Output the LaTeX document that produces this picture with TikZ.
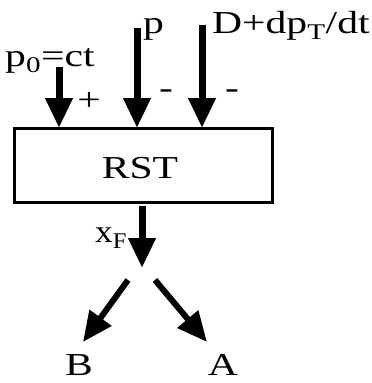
\documentclass[tikz,border=0pt]{standalone}
\usepackage{fontspec}
\usepackage{graphicx}
\setmainfont{Liberation Serif}
\usetikzlibrary{arrows.meta}
\newcommand{\wide}[1]{\scalebox{1.3}[1]{#1}}
\begin{document}
\begin{tikzpicture}[x=1pt,y=-1pt,
  lbl/.style={inner sep=0pt,font=\fontsize{32}{32}\selectfont,anchor=base},
  bigarrow/.style={line width=7pt,-{Triangle[width=26pt,length=30pt]}},
  diagarrow/.style={line width=6pt,-{Triangle[width=26pt,length=30pt]}}]
\useasboundingbox (0,0) rectangle (372,383);
\node[draw,line width=3pt,minimum width=258pt,minimum height=74pt,inner sep=0pt,anchor=north west] (rst) at (13,127) {};
\node[lbl] (rsttext) at (140,178) {\wide{RST}};
\coordinate (s1) at (59,67);
\coordinate (s2) at (137,28);
\coordinate (s3) at (202,25);
\coordinate (e1) at (59,128);
\coordinate (e2) at (137,128);
\coordinate (e3) at (202,128);
\draw[bigarrow] (s1) -- (e1);
\draw[bigarrow] (s2) -- (e2);
\draw[bigarrow] (s3) -- (e3);
\node[lbl,anchor=base west] (p0) at (5,66) {\wide{p\textsubscript{0}=ct}};
\node[lbl,anchor=base west] (p) at (143,33) {\wide{p}};
\node[lbl,anchor=base west] (D) at (212,33) {\wide{D+dp\textsubscript{T}/dt}};
\node[lbl,anchor=center] (plus) at (89,101) {\wide{+}};
\node[lbl,anchor=center] (m1) at (166,94) {\wide{-}};
\node[lbl,anchor=center] (m2) at (232,94) {\wide{-}};
\coordinate (o1) at (142,206);
\coordinate (o2) at (142,268);
\draw[bigarrow] (o1) -- (o2);
\node[lbl,anchor=base west] (xf) at (95,242) {\scalebox{1.1}[1]{x\textsubscript{F}}};
\coordinate (l1) at (128,280);
\coordinate (l2) at (83,342);
\coordinate (r1) at (155,280);
\coordinate (r2) at (207,342);
\draw[diagarrow] (l1) -- (l2);
\draw[diagarrow] (r1) -- (r2);
\node[lbl] (B) at (79,375) {\wide{B}};
\node[lbl] (A) at (223,375) {\wide{A}};
\end{tikzpicture}
\end{document}
